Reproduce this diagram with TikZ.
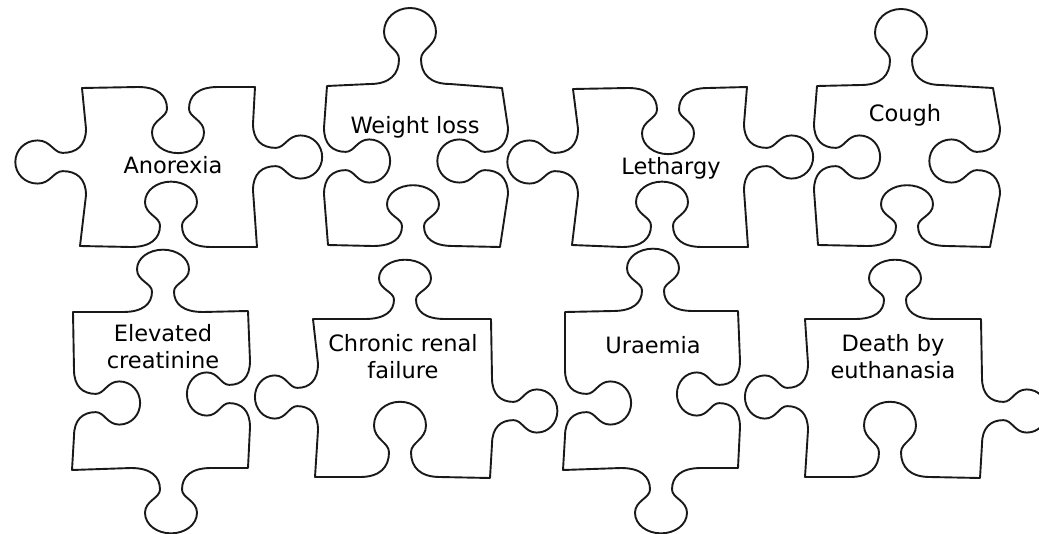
\documentclass[tikz,border=0pt]{standalone}
\usepackage{fontspec}
\setmainfont{DejaVu Sans}
\usetikzlibrary{positioning}
% one tab (sign 1) or blank (sign -1) on an edge: centre, angle, sign, along scale, depth scale
\newcommand{\knob}[5]{%
  {[shift={(#1)}, rotate=#2, xscale=#4, yscale={-(#3)*(#5)}]
  -- (-40,0) .. controls (-20,0) and (-11,10) .. (-11,25)
  .. controls (-11,35) and (-26,38) .. (-26,52)
  .. controls (-26,66) and (-14,76) .. (0,76)
  .. controls (14,76) and (26,66) .. (26,52)
  .. controls (26,38) and (11,35) .. (11,25)
  .. controls (11,10) and (20,0) .. (40,0)}}

\begin{document}
\begin{tikzpicture}[
    x = 1pt, y = -1pt,
    piece/.style = {draw=black!90, line width=1.9pt, line join=round},
    symptom/.style = {font=\fontsize{22.5}{27}\selectfont, align=center, inner sep=0pt, anchor=base}
    ]
  \useasboundingbox (0,0) rectangle (1039,533);
  \clip (0,0) rectangle (1039,533);

  % top row
  \draw[piece] (82,88) \knob{178,87}{0}{-1}{1}{.87} -- (255,87)
    \knob{253,157}{-90}{1}{.83}{.91} -- (257,247)
    \knob{171,247}{180}{-1}{1}{.86} -- (80,246)
    \knob{86,162}{90}{1}{.83}{.93} -- cycle;
  \draw[piece] (327,86) \knob{410,84}{0}{1}{1}{1} -- (502,88)
    \knob{508,161}{-90}{-1}{.83}{.93} -- (500,247)
    \knob{413,246}{180}{-1}{1}{.8} -- (328,245)
    \knob{324,161}{90}{-1}{.83}{.87} -- cycle;
  \draw[piece] (573,89) \knob{668,88}{0}{-1}{1}{.87} -- (747,87)
    \knob{744,157}{-90}{1}{.83}{.91} -- (748,247)
    \knob{662,247}{180}{-1}{1}{.86} -- (572,245)
    \knob{578,162}{90}{1}{.83}{.93} -- cycle;
  \draw[piece] (817,86) \knob{901,85}{0}{1}{1}{1} -- (993,88)
    \knob{1000,161}{-90}{-1}{.83}{.93} -- (990,247)
    \knob{907,246}{180}{-1}{1}{.8} -- (818,245)
    \knob{814,157}{90}{-1}{.83}{.87} -- cycle;

  % bottom row
  \draw[piece] (73,312) \knob{163,312}{0}{1}{1}{.82} -- (248,311)
    \knob{250,394}{-90}{-1}{.83}{.83} -- (248,468)
    \knob{171,468}{180}{1}{1}{.86} -- (72,470)
    \knob{74,403}{90}{-1}{.83}{.87} -- cycle;
  \draw[piece] (313,319) \knob{405,319}{0}{1}{1}{.78} -- (491,319)
    \knob{492,411}{-90}{1}{.83}{.86} -- (490,478)
    \knob{400,477}{180}{-1}{1}{.99} -- (315,477)
    \knob{318,397}{90}{1}{.83}{.83} -- cycle;
  \draw[piece] (565,312) \knob{653,311}{0}{1}{1}{.82} -- (738,311)
    \knob{740,394}{-90}{-1}{.83}{.83} -- (738,468)
    \knob{661,468}{180}{1}{1}{.86} -- (563,470)
    \knob{565,403}{90}{-1}{.83}{.87} -- cycle;
  \draw[piece] (805,319) \knob{895,319}{0}{1}{1}{.78} -- (981,319)
    \knob{982,411}{-90}{1}{.83}{.86} -- (980,478)
    \knob{890,477}{180}{-1}{1}{.99} -- (805,477)
    \knob{808,397}{90}{1}{.83}{.83} -- cycle;

  \node[symptom] (anorexia) at (173,173) {Anorexia};
  \node[symptom] (weightloss) at (415,133) {Weight loss};
  \node[symptom] (lethargy) at (671,174) {Lethargy};
  \node[symptom] (cough) at (905,121) {Cough};
  \node[symptom] (creatinine) at (163,368) {Elevated\\creatinine};
  \node[symptom] (renal) at (403,378) {Chronic renal\\failure};
  \node[symptom] (uraemia) at (653,353) {Uraemia};
  \node[symptom] (death) at (893,378) {Death by\\euthanasia};
\end{tikzpicture}
\end{document}
